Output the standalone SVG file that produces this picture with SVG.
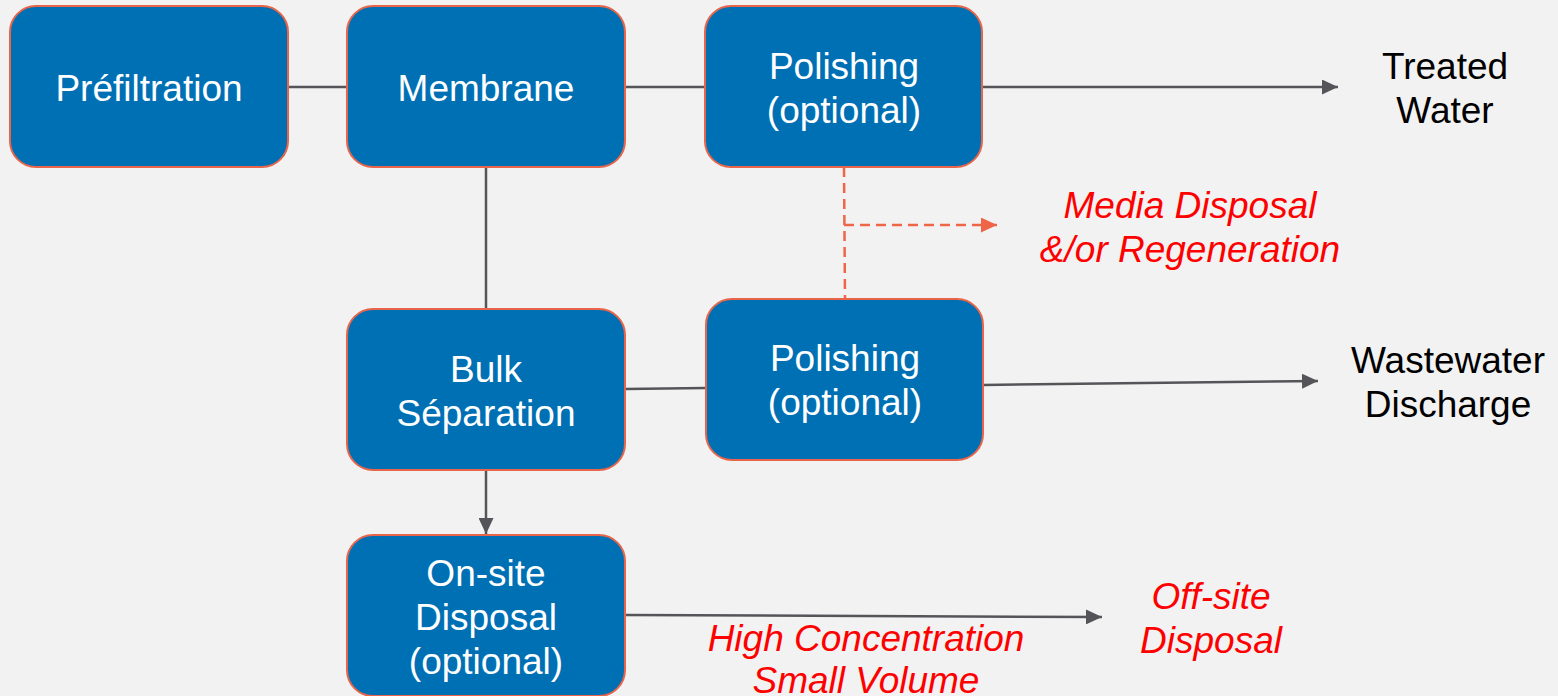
<svg xmlns="http://www.w3.org/2000/svg" width="1558" height="696" viewBox="0 0 1558 696">
<style>
.box{fill:#0070B5;stroke:#E8654A;stroke-width:2}
.bt{font-family:"Liberation Sans",Arial,sans-serif;font-size:37px;fill:#FFFFFF;text-anchor:middle}
.ot{font-family:"Liberation Sans",Arial,sans-serif;font-size:37px;fill:#000000;text-anchor:middle}
.rt{font-family:"Liberation Sans",Arial,sans-serif;font-size:37px;font-style:italic;fill:#FF0000;text-anchor:middle}
.ln{stroke:#555559;stroke-width:2.5;fill:none}
.dl{stroke:#EE6548;stroke-width:2.5;fill:none;stroke-dasharray:10,6}
</style>
<defs>
<marker id="ah" markerWidth="16" markerHeight="15" refX="16" refY="7.5" orient="auto" markerUnits="userSpaceOnUse"><path d="M0,0 L16,7.5 L0,15 Z" fill="#555559"/></marker>
<marker id="ahr" markerWidth="16" markerHeight="15" refX="16" refY="7.5" orient="auto" markerUnits="userSpaceOnUse"><path d="M0,0 L16,7.5 L0,15 Z" fill="#EE6548"/></marker>
</defs>
<rect width="1558" height="696" fill="#F2F2F2"/>
<g id="connectors">
<line class="ln" x1="288" y1="87" x2="347" y2="87"/>
<line class="ln" x1="625" y1="87" x2="705" y2="87"/>
<line class="ln" x1="982" y1="87" x2="1338" y2="87" marker-end="url(#ah)"/>
<line class="ln" x1="486" y1="167" x2="486" y2="309"/>
<line class="ln" x1="625" y1="389" x2="706" y2="388"/>
<line class="ln" x1="983" y1="385" x2="1318" y2="381" marker-end="url(#ah)"/>
<line class="ln" x1="486" y1="470" x2="486" y2="534" marker-end="url(#ah)"/>
<line class="ln" x1="625" y1="615" x2="1102" y2="617" marker-end="url(#ah)"/>
<line class="dl" x1="844" y1="167" x2="845" y2="299"/>
<line class="dl" x1="844" y1="225" x2="997" y2="225" marker-end="url(#ahr)"/>
</g>
<g id="prefiltration">
<rect class="box" x="10" y="6" width="278" height="161" rx="26"/>
<text class="bt" x="149" y="101">Préfiltration</text>
</g>
<g id="membrane">
<rect class="box" x="347" y="6" width="278" height="161" rx="26"/>
<text class="bt" x="486" y="101">Membrane</text>
</g>
<g id="polishing-top">
<rect class="box" x="705" y="6" width="277" height="161" rx="26"/>
<text class="bt" x="844" y="79">Polishing</text>
<text class="bt" x="844" y="123">(optional)</text>
</g>
<g id="bulk-separation">
<rect class="box" x="347" y="309" width="278" height="161" rx="26"/>
<text class="bt" x="486" y="382">Bulk</text>
<text class="bt" x="486" y="426">Séparation</text>
</g>
<g id="polishing-bottom">
<rect class="box" x="706" y="299" width="277" height="161" rx="26"/>
<text class="bt" x="845" y="371">Polishing</text>
<text class="bt" x="845" y="415">(optional)</text>
</g>
<g id="onsite-disposal">
<rect class="box" x="347" y="535" width="278" height="161" rx="26"/>
<text class="bt" x="486" y="586">On-site</text>
<text class="bt" x="486" y="630">Disposal</text>
<text class="bt" x="486" y="674">(optional)</text>
</g>
<g id="treated-water">
<text class="ot" x="1445" y="79">Treated</text>
<text class="ot" x="1445" y="123">Water</text>
</g>
<g id="wastewater-discharge">
<text class="ot" x="1448" y="373">Wastewater</text>
<text class="ot" x="1448" y="417">Discharge</text>
</g>
<g id="media-disposal">
<text class="rt" x="1190" y="218">Media Disposal</text>
<text class="rt" x="1190" y="262">&amp;/or Regeneration</text>
</g>
<g id="high-concentration">
<text class="rt" x="866" y="651">High Concentration</text>
<text class="rt" x="866" y="693">Small Volume</text>
</g>
<g id="offsite-disposal">
<text class="rt" x="1211" y="609">Off-site</text>
<text class="rt" x="1211" y="653">Disposal</text>
</g>
</svg>
